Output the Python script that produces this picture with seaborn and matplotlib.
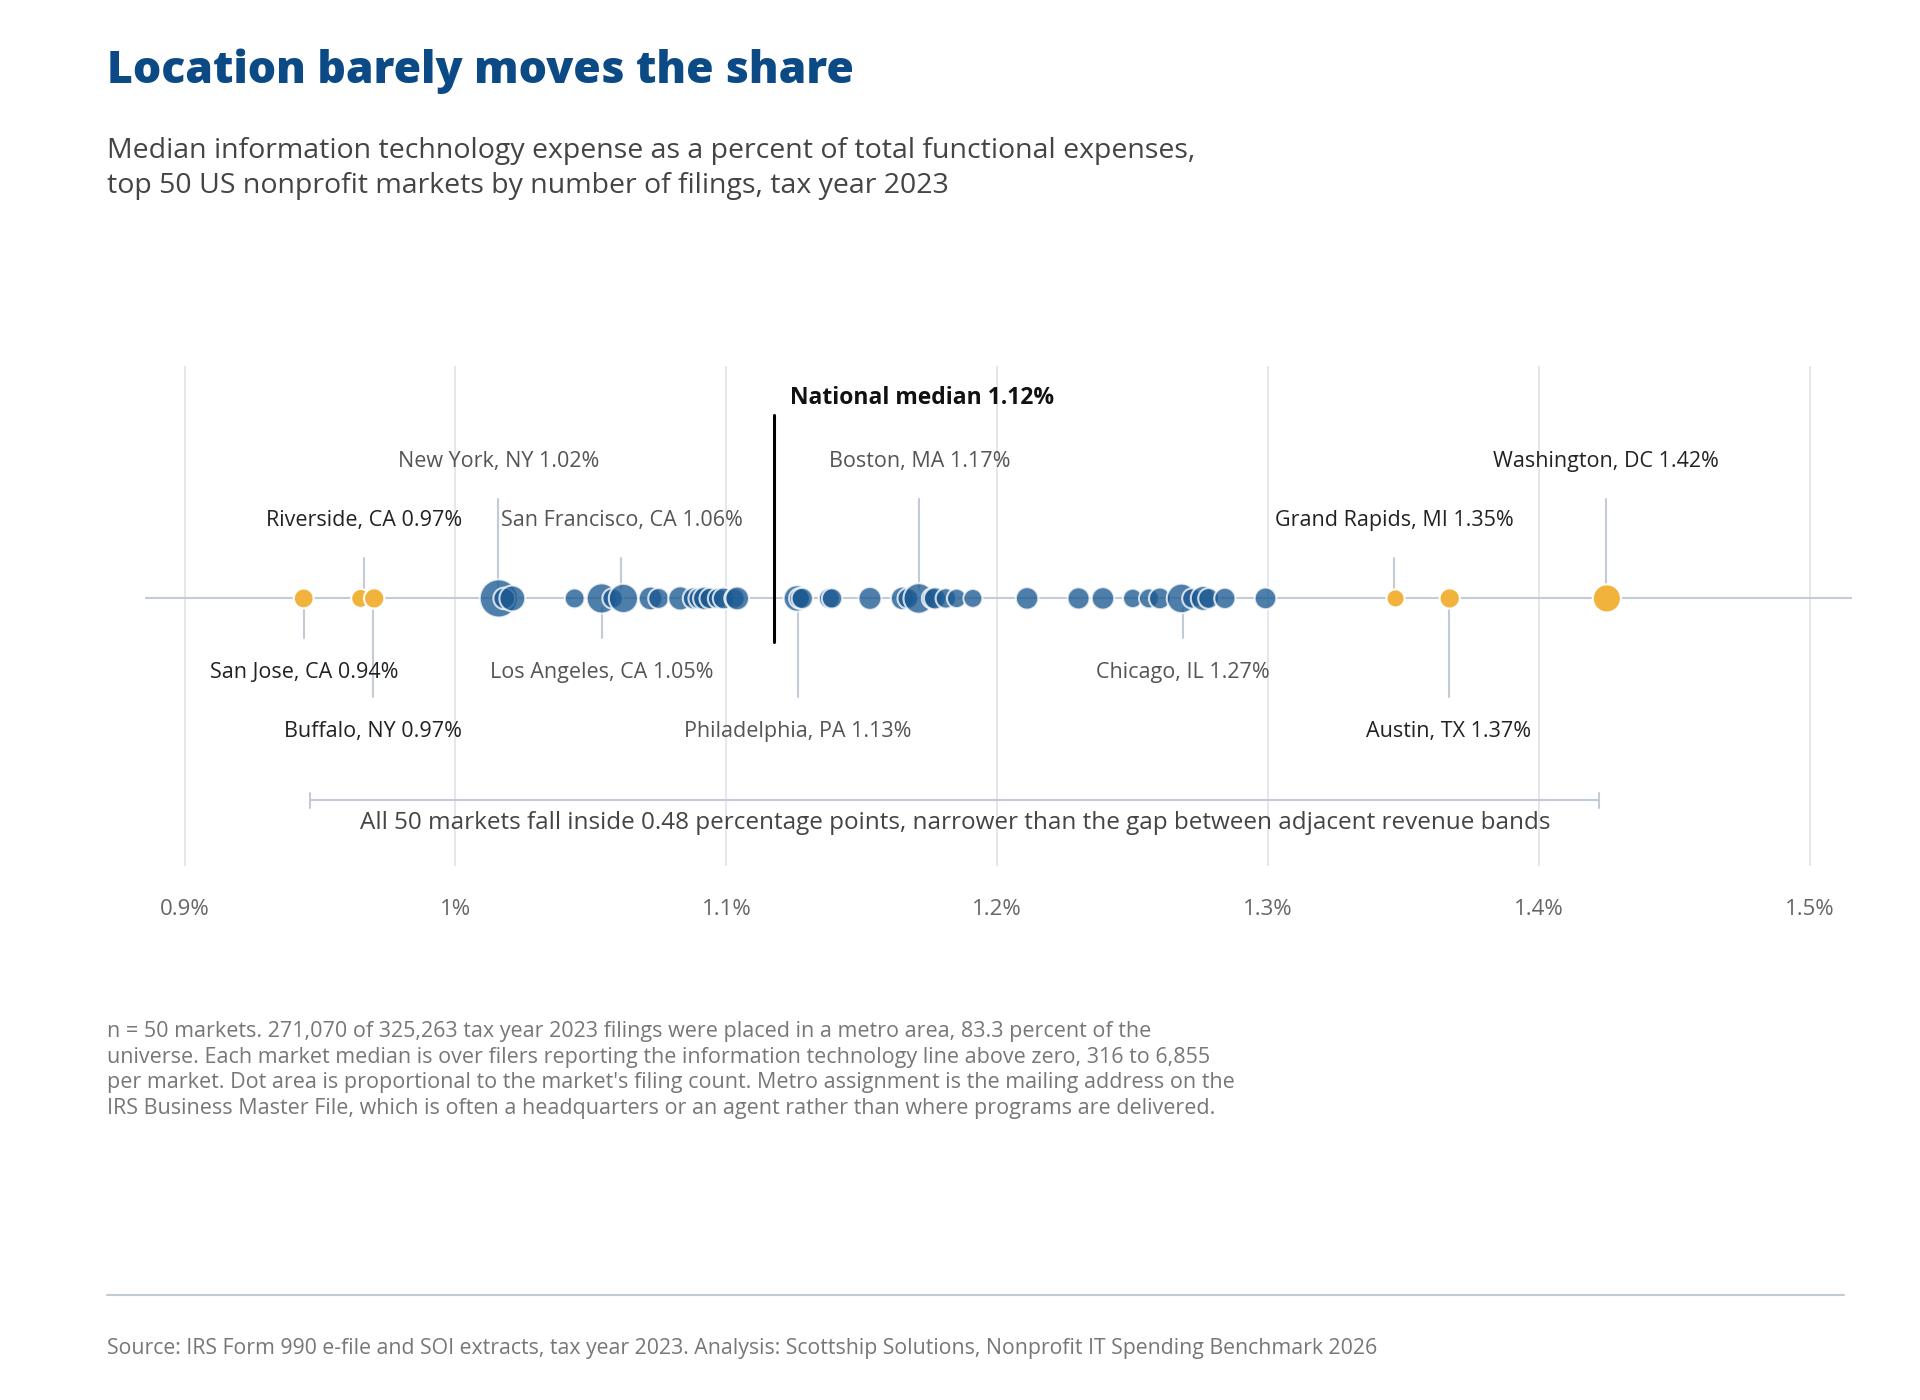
import matplotlib
matplotlib.use("Agg")
import matplotlib.pyplot as plt
import seaborn as sns
import pandas as pd

sns.set_theme(style="white")
plt.rcParams['font.family'] = ['Open Sans', 'DejaVu Sans']

# market medians (% of total functional expenses) and filing counts
blue_vals = [1.016, 1.018, 1.021, 1.044, 1.054, 1.058, 1.062, 1.072, 1.075, 1.083, 1.088, 1.090,
             1.092, 1.094, 1.097, 1.099, 1.103, 1.104, 1.126, 1.127, 1.128, 1.138, 1.139, 1.153,
             1.165, 1.167, 1.171, 1.176, 1.177, 1.181, 1.185, 1.191, 1.211, 1.230, 1.239, 1.250,
             1.256, 1.260, 1.268, 1.272, 1.276, 1.278, 1.284, 1.299]
blue_n = [6855, 1500, 2600, 1100, 3900, 1200, 3600, 2000, 1300, 2100, 1600, 1500,
          1900, 1400, 1300, 1500, 1200, 2000, 2700, 1300, 1400, 1300, 1200, 1800,
          1900, 1300, 4000, 1300, 1600, 1200, 1000, 900, 1700, 1600, 1700, 1000,
          1100, 1500, 3700, 1200, 2300, 1300, 1400, 1500]
gold_vals = [0.944, 0.965, 0.970, 1.347, 1.367, 1.425]
gold_n = [1100, 900, 1200, 750, 1200, 3300]

labels = [  # text, dot x, stem x, label y (px from top, display), above
    ("New York, NY 1.02%", 1.016, 405, 375, True),
    ("Riverside, CA 0.97%", 0.965, 296, 423, True),
    ("San Francisco, CA 1.06%", 1.062, 505, 423, True),
    ("Boston, MA 1.17%", 1.171, 747, 375, True),
    ("Grand Rapids, MI 1.35%", 1.347, 1133, 423, True),
    ("Washington, DC 1.42%", 1.425, 1305, 375, True),
    ("San Jose, CA 0.94%", 0.944, 247, 546, False),
    ("Buffalo, NY 0.97%", 0.970, 303, 594, False),
    ("Los Angeles, CA 1.05%", 1.054, 489, 546, False),
    ("Philadelphia, PA 1.13%", 1.126, 648, 594, False),
    ("Chicago, IL 1.27%", 1.268, 961, 546, False),
    ("Austin, TX 1.37%", 1.367, 1177, 594, False),
]
dark_labels = {"Riverside, CA 0.97%", "Grand Rapids, MI 1.35%", "Washington, DC 1.42%",
               "San Jose, CA 0.94%", "Buffalo, NY 0.97%", "Austin, TX 1.37%"}
ticks = [0.9, 1.0, 1.1, 1.2, 1.3, 1.4, 1.5]
tick_labels = ["0.9%", "1%", "1.1%", "1.2%", "1.3%", "1.4%", "1.5%"]
median = 1.1176

W, H = 1560, 1137  # layout reference units
fx = lambda x: x / W
fy = lambda y: 1 - y / H

fig = plt.figure(figsize=(19.2, 14), dpi=100)
ax = fig.add_axes([fx(118), fy(703), fx(1505) - fx(118), (703 - 297) / H])
ax.set_xlim(0.8855, 1.5156)
ax.set_ylim(0, 1)
yd = lambda y: (703 - y) / 406
yline = yd(486)

for t in ticks:
    ax.axvline(t, color="#dfe3e8", lw=1.2, zorder=0)
ax.axhline(yline, color="#c3ccd6", lw=1.5, zorder=1)

blue = pd.DataFrame({"x": blue_vals, "y": yline, "n": blue_n})
gold = pd.DataFrame({"x": gold_vals, "y": yline, "n": gold_n})
sns.scatterplot(data=blue, x="x", y="y", size="n", sizes=(130, 750), size_norm=(316, 6855),
                color="#1c5a92", alpha=0.78, edgecolor="white", linewidth=1.5,
                legend=False, ax=ax, zorder=3)
sns.scatterplot(data=gold, x="x", y="y", size="n", sizes=(130, 750), size_norm=(316, 6855),
                color="#f2b33d", alpha=1, edgecolor="white", linewidth=1.5,
                legend=False, ax=ax, zorder=4)

# median line
ax.plot([median, median], [yd(521), yd(337)], color="black", lw=2.2, zorder=5)
ax.text(1.1235, yd(323), "National median 1.12%", fontsize=16.5, fontweight="bold",
        color="#111111", ha="left", va="center")

x_of = lambda px: 0.9 + (px - 150) / 2201
for text, v, sx, ty, above in labels:
    col = "#222222" if text in dark_labels else "#555555"
    if above:
        ax.plot([x_of(sx)] * 2, [yd(ty + 30), yd(478)], color="#c3ccd6", lw=1.5, zorder=2)
    else:
        ax.plot([x_of(sx)] * 2, [yd(494), yd(ty - 28)], color="#c3ccd6", lw=1.5, zorder=2)
    ax.text(x_of(sx), yd(ty), text, fontsize=15.5, color=col, ha="center", va="center")

# range bracket
b0, b1 = x_of(252), x_of(1299)
ax.plot([b0, b1], [yd(650)] * 2, color="#c3ccd6", lw=1.5)
for b in (b0, b1):
    ax.plot([b, b], [yd(644), yd(656)], color="#c3ccd6", lw=1.5)
ax.text(x_of(776), yd(668), "All 50 markets fall inside 0.48 percentage points, narrower than the gap between adjacent revenue bands",
        fontsize=17.5, color="#444444", ha="center", va="center")

ax.set_xticks(ticks)
ax.set_xticklabels(tick_labels, fontsize=16, color="#666666")
ax.tick_params(axis="x", length=0, pad=24)
ax.set_yticks([])
ax.set_xlabel("")
ax.set_ylabel("")
for s in ax.spines.values():
    s.set_visible(False)

fig.text(fx(87), fy(58), "Location barely moves the share", fontsize=32, fontweight="heavy",
         color="#0b4a85", ha="left", va="center")
fig.text(fx(87), fy(137), "Median information technology expense as a percent of total functional expenses,\n"
         "top 50 US nonprofit markets by number of filings, tax year 2023",
         fontsize=20.5, color="#444444", ha="left", va="center", linespacing=1.35)
fig.text(fx(87), fy(869),
         "n = 50 markets. 271,070 of 325,263 tax year 2023 filings were placed in a metro area, 83.3 percent of the\n"
         "universe. Each market median is over filers reporting the information technology line above zero, 316 to 6,855\n"
         "per market. Dot area is proportional to the market's filing count. Metro assignment is the mailing address on the\n"
         "IRS Business Master File, which is often a headquarters or an agent rather than where programs are delivered.",
         fontsize=15.5, color="#777777", ha="left", va="center", linespacing=1.3)
fig.add_artist(plt.Line2D([fx(87), fx(1498)], [fy(1052)] * 2, color="#c3ccd6", lw=1.5))
fig.text(fx(87), fy(1095), "Source: IRS Form 990 e-file and SOI extracts, tax year 2023. Analysis: Scottship Solutions, Nonprofit IT Spending Benchmark 2026",
         fontsize=15.3, color="#777777", ha="left", va="center")

fig.savefig("out.png", dpi=100, facecolor="white")
